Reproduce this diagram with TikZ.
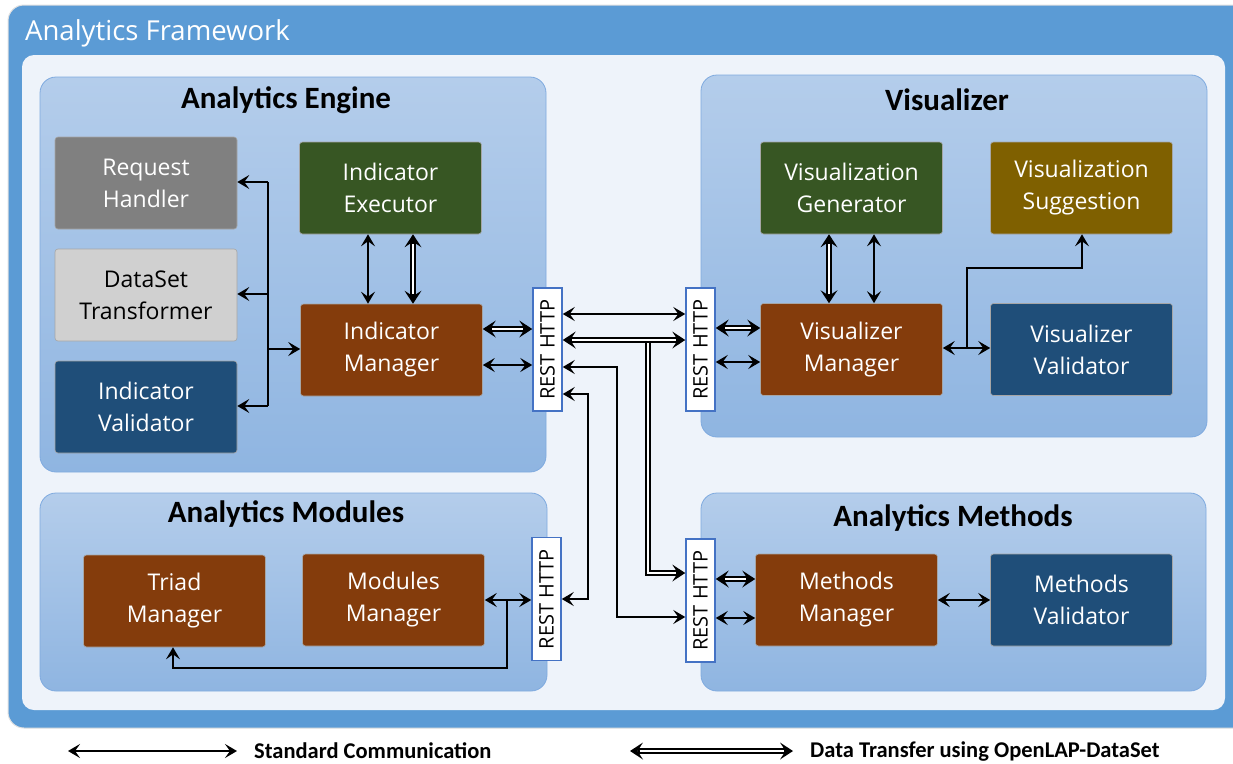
\documentclass[tikz,border=0pt]{standalone}
\usepackage{fontspec}
\setmainfont{Open Sans}
\newfontfamily\hfont{Carlito}
\usetikzlibrary{arrows.meta,calc}
\definecolor{frameblue}{HTML}{5B9BD5}
\definecolor{panel}{HTML}{EEF3FA}
\definecolor{grptop}{HTML}{B4CDEB}
\definecolor{grpbot}{HTML}{8FB5E1}
\definecolor{grpline}{HTML}{7FAADF}
\definecolor{cgray}{HTML}{808080}
\definecolor{clight}{HTML}{D0D0D0}
\definecolor{cblue}{HTML}{1F4E79}
\definecolor{cgreen}{HTML}{375623}
\definecolor{cbrown}{HTML}{843C0C}
\definecolor{cgold}{HTML}{7F6000}
\definecolor{restline}{HTML}{4472C4}
\tikzset{
  grp/.style={draw=grpline, line width=0.8pt, rounded corners=16pt, top color=grptop, bottom color=grpbot},
  grptitle/.style={font=\hfont\bfseries\fontsize{31}{34}\selectfont, text=black},
  box/.style={draw=black!35, line width=0.6pt, rounded corners=3pt, minimum width=182pt, minimum height=92pt,
    align=center, text=white, font=\fontsize{23}{32}\selectfont},
  rest/.style={draw=restline, fill=white, line width=1.5pt, minimum width=29pt, minimum height=123pt,
    inner sep=0pt},
  resttext/.style={rotate=90, font=\fontsize{20}{21}\selectfont},
  sarr/.style={line width=1.7pt, {Stealth[length=12pt,width=14pt,inset=5pt]}-{Stealth[length=12pt,width=14pt,inset=5pt]}},
  harr/.style={line width=1.7pt, -{Stealth[length=12pt,width=14pt,inset=5pt]}},
  darr/.style={line width=5.6pt, {Stealth[length=13pt,width=17pt,inset=5.5pt,line width=0pt]}-{Stealth[length=13pt,width=17pt,inset=5.5pt,line width=0pt]},
    postaction={draw=white, line width=2.2pt, -, shorten <=9.5pt, shorten >=9.5pt}},
  dhead/.style={line width=5.6pt, -{Stealth[length=13pt,width=17pt,inset=5.5pt,line width=0pt]},
    postaction={draw=white, line width=2.2pt, -, shorten >=9.5pt}},
  legtext/.style={font=\hfont\bfseries\fontsize{22.5}{24}\selectfont, anchor=west, inner sep=0pt}
}
\begin{document}
\begin{tikzpicture}[x=1pt,y=-1pt]
\useasboundingbox (0,0) rectangle (1233,763);
% frame
\fill[white] (0,0) rectangle (1233,763);
\draw[black!12, line width=1pt, fill=frameblue, rounded corners=16pt] (8,5) rectangle (1250,728);
\node[anchor=west, text=white, font=\fontsize{27.5}{29}\selectfont, inner sep=0pt] (ftitle) at (25,33) {Analytics Framework};
\fill[panel, rounded corners=12pt] (22,55) rectangle (1225,710);
% groups
\draw[grp] (40,77) rectangle (546,472);
\node[grptitle] (gae) at (286,100) {Analytics Engine};
\draw[grp] (701,75) rectangle (1207,437);
\node[grptitle] (gvi) at (947,100) {Visualizer};
\draw[grp] (40,493) rectangle (547,691);
\node[grptitle] (gam) at (286,514) {Analytics Modules};
\draw[grp] (701,493) rectangle (1206,691);
\node[grptitle] (gme) at (953,518) {Analytics Methods};
% boxes
\node[box, fill=cgray] (rh) at (146,183) {Request\\Handler};
\node[box, fill=clight, text=black] (dt) at (146,295) {DataSet\\Transformer};
\node[box, fill=cblue] (iv) at (146,407) {Indicator\\Validator};
\node[box, fill=cgreen] (ie) at (390.5,188) {Indicator\\Executor};
\node[box, fill=cbrown] (im) at (391.5,350) {Indicator\\Manager};
\node[box, fill=cgreen] (vg) at (851.5,188) {Visualization\\Generator};
\node[box, fill=cgold] (vs) at (1081.5,188) {Visualization\\Suggestion};
\node[box, fill=cbrown] (vm) at (851.5,349.5) {Visualizer\\Manager};
\node[box, fill=cblue] (vv) at (1081.5,349.5) {Visualizer\\Validator};
\node[box, fill=cbrown] (tm) at (174.5,601) {Triad\\Manager};
\node[box, fill=cbrown] (mm) at (393.5,600) {Modules\\Manager};
\node[box, fill=cbrown] (mem) at (846.5,600) {Methods\\Manager};
\node[box, fill=cblue] (mv) at (1081.5,600) {Methods\\Validator};
% REST boxes
\node[rest] (r1) at (547.5,349.5) {};
\node[resttext] at (r1) {REST HTTP};
\node[rest] (r2) at (700.5,349.5) {};
\node[resttext] at (r2) {REST HTTP};
\node[rest] (r3) at (546.5,599) {};
\node[resttext] at (r3) {REST HTTP};
\node[rest] (r4) at (700.5,600.5) {};
\node[resttext] at (r4) {REST HTTP};
% engine bus
\coordinate (bt) at (268,182);
\coordinate (bb) at (268,406);
\draw[line width=1.7pt] (bt) -- (bb);
\draw[harr] (bt) -- (rh.east |- bt);
\draw[harr] (268,294) -- (dt.east |- 0,294);
\draw[harr] (bb) -- (iv.east |- bb);
\draw[harr] (268,349) -- (im.west |- 0,349);
% executor - manager
\draw[sarr] (ie.south -| 368,0) -- (im.north -| 368,0);
\draw[darr] (ie.south -| 413,0) -- (im.north -| 413,0);
% manager - r1
\draw[darr] (im.east |- 0,329) -- (r1.west |- 0,329);
\draw[sarr] (im.east |- 0,365) -- (r1.west |- 0,365);
% r1 - r2
\draw[sarr] (r1.east |- 0,314) -- (r2.west |- 0,314);
\draw[dhead] (648,340) -- (648,573) -- (r4.west |- 0,573);
\draw[darr] (r1.east |- 0,340) -- (r2.west |- 0,340);
\draw[sarr] (r1.east |- 0,367) -| (617,617) -- (r4.west |- 0,617);
\draw[sarr] (r1.east |- 0,394) -| (588,599) -- (r3.east |- 0,599);
% modules
\draw[sarr] (mm.east |- 0,600) -- (r3.west |- 0,600);
\draw[harr] (507,600) |- (173,668) -- (tm.south -| 173,0);
% r2 - visualizer manager
\draw[darr] (r2.east |- 0,328) -- (vm.west |- 0,328);
\draw[sarr] (r2.east |- 0,362) -- (vm.west |- 0,362);
% generator - manager
\draw[darr] (vg.south -| 829,0) -- (vm.north -| 829,0);
\draw[sarr] (vg.south -| 874,0) -- (vm.north -| 874,0);
% manager - validator / suggestion
\draw[sarr] (vm.east |- 0,348) -- (vv.west |- 0,348);
\draw[harr] (967,348) |- (1082,268) -- (vs.south -| 1082,0);
% r4 - methods
\draw[darr] (r4.east |- 0,579) -- (mem.west |- 0,579);
\draw[sarr] (r4.east |- 0,618) -- (mem.west |- 0,618);
\draw[sarr] (mem.east |- 0,600) -- (mv.west |- 0,600);
% legend
\coordinate (l1a) at (68,751);
\coordinate (l1b) at (237,751);
\draw[sarr] (l1a) -- (l1b);
\node[legtext] (l1t) at (254,751) {Standard Communication};
\coordinate (l2a) at (630,751);
\coordinate (l2b) at (793,751);
\draw[darr] (l2a) -- (l2b);
\node[legtext] (l2t) at (810,751) {Data Transfer using OpenLAP-DataSet};
\end{tikzpicture}
\end{document}
